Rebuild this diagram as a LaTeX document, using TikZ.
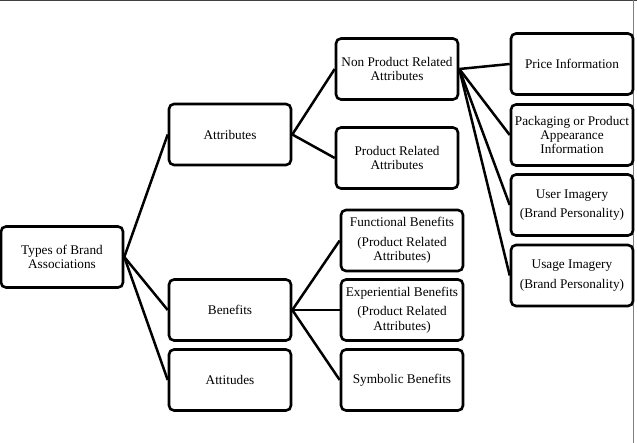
\documentclass[tikz,border=0pt]{standalone}
\usepackage{fontspec}
\setmainfont{Liberation Serif}
\usepackage{tikz}

\begin{document}
\begin{tikzpicture}[x=1bp,y=-1bp,
    box/.style={draw,line width=2.6bp,rounded corners=5bp,minimum width=122bp,minimum height=61bp,
      align=center,inner sep=1bp,font=\fontsize{13.3}{14.5}\selectfont},
    link/.style={line width=2.5bp}]
    \useasboundingbox (0,0) rectangle (637,443);
    \draw[black!75,line width=1.5bp] (0,0.75) -- (637,0.75);
    \draw[black!50,line width=1bp] (633.5,0) -- (633.5,443);
    \node[box] (types) at (62,257) {Types of Brand\\Associations};
    \node[box] (attr) at (230,134.5) {Attributes};
    \node[box] (ben) at (230,310) {Benefits};
    \node[box] (atti) at (230,380) {Attitudes};
    \node[box] (nonprod) at (397,69) {Non Product Related\\Attributes};
    \node[box] (prodrel) at (397,158) {Product Related\\Attributes};
    \node[box] (func) at (402,240.5) {Functional Benefits\\[5bp](Product Related\\Attributes)};
    \node[box] (exper) at (402,310) {Experiential Benefits\\[5bp](Product Related\\Attributes)};
    \node[box] (symb) at (402,380) {Symbolic Benefits};
    \node[box] (price) at (572,64) {Price Information};
    \node[box] (pack) at (572,135) {Packaging or Product\\Appearance\\Information};
    \node[box] (user) at (572,205) {User Imagery\\[5bp](Brand Personality)};
    \node[box] (usage) at (572,275.5) {Usage Imagery\\[5bp](Brand Personality)};
    \draw[link] (types.east) -- (attr.west);
    \draw[link] (types.east) -- (ben.west);
    \draw[link] (types.east) -- (atti.west);
    \draw[link] (attr.east) -- (nonprod.west);
    \draw[link] (attr.east) -- (prodrel.west);
    \draw[link] (ben.east) -- (func.west);
    \draw[link] (ben.east) -- (exper.west);
    \draw[link] (ben.east) -- (symb.west);
    \draw[link] (nonprod.east) -- (price.west);
    \draw[link] (nonprod.east) -- (pack.west);
    \draw[link] (nonprod.east) -- (user.west);
    \draw[link] (nonprod.east) -- (usage.west);
\end{tikzpicture}
\end{document}
